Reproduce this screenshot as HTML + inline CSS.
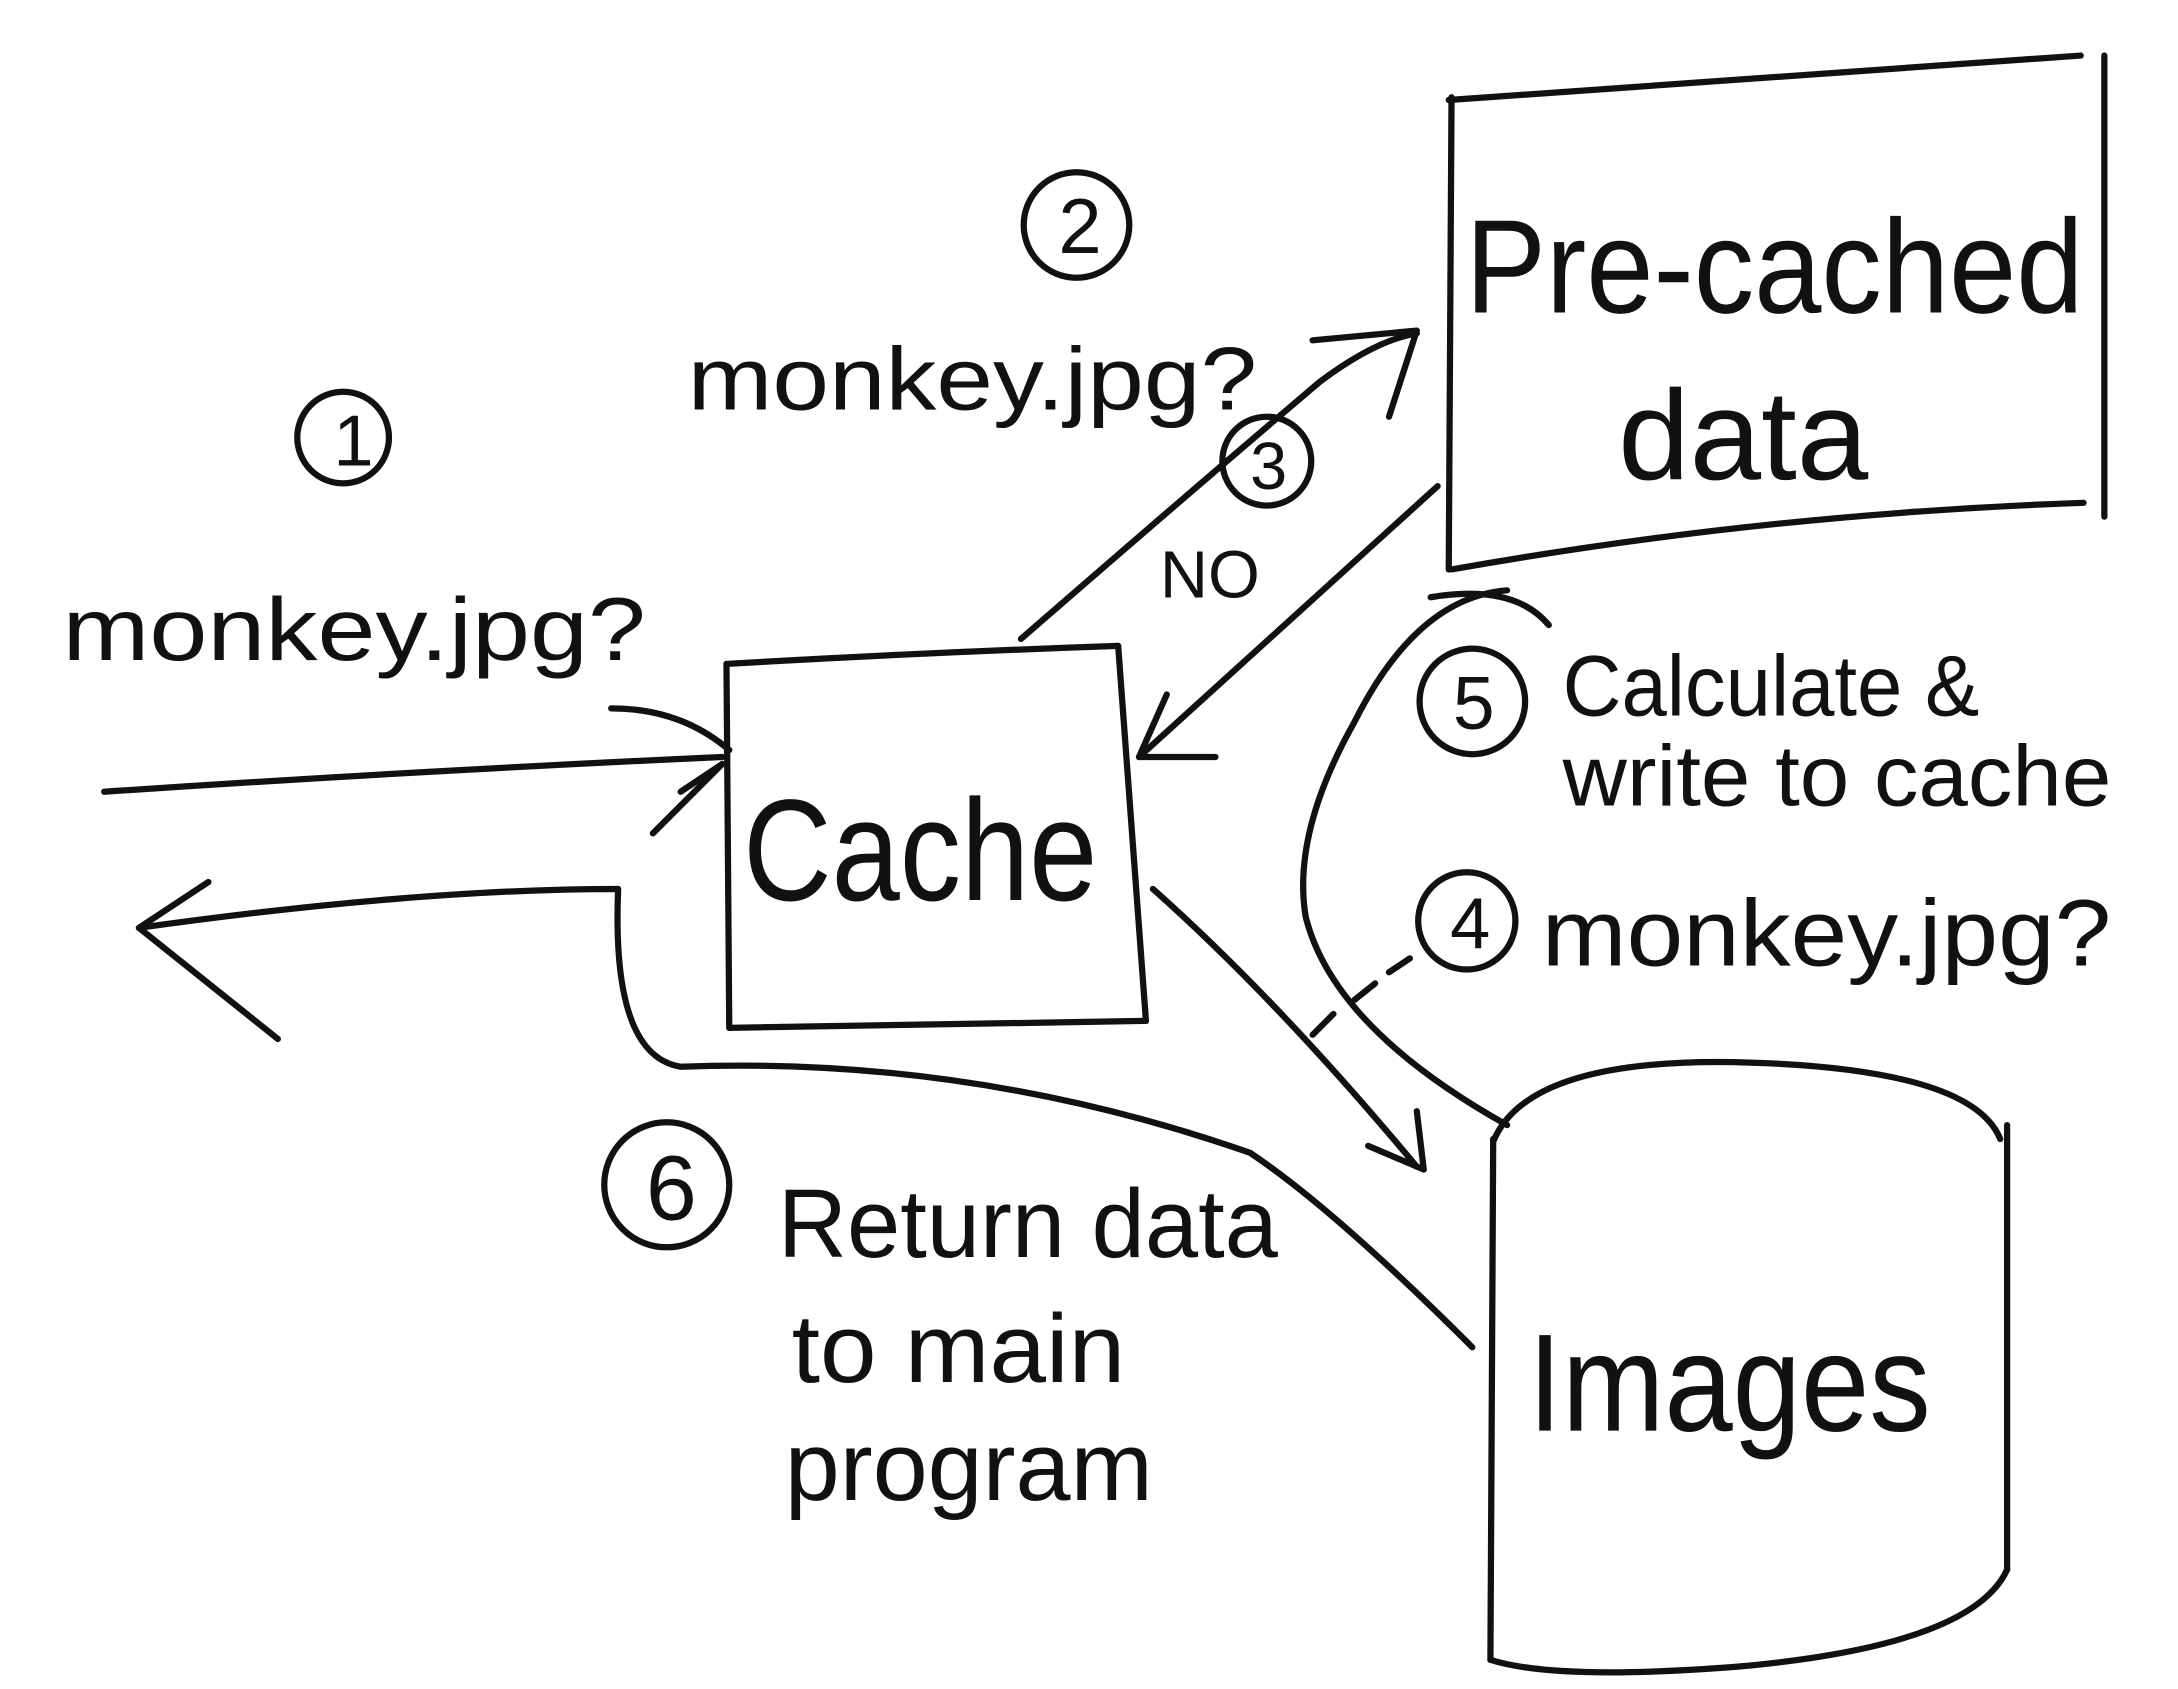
<!DOCTYPE html>
<html><head><meta charset="utf-8"><style>
html,body{margin:0;padding:0;background:#fff}
svg{display:block}
text{font-family:"Liberation Sans",sans-serif;fill:#111}
</style></head><body>
<svg width="2178" height="1689" viewBox="0 0 1568 1216" xmlns="http://www.w3.org/2000/svg">
<g fill="none" stroke="#111" stroke-width="4.5" stroke-linecap="round" stroke-linejoin="round">
<path d="M1045 70 L1043 410"/>
<path d="M1043 72 Q1280 55 1498 40"/>
<path d="M1515 40 L1515 372"/>
<path d="M1045 410 Q1270 370 1500 362"/>
<path d="M523 478 L525 740"/>
<path d="M523 478 Q660 470 805 465"/>
<path d="M805 465 L825 735"/>
<path d="M525 740 Q680 738 825 735"/>
<path d="M1075 820 L1073 1195"/>
<path d="M1075 822 Q1100 760 1260 765 Q1420 770 1440 820"/>
<path d="M1445 810 L1445 1130"/>
<path d="M1073 1195 Q1120 1210 1250 1200 Q1420 1185 1445 1130"/>
<path d="M75 570 Q300 555 520 545"/>
<path d="M490 570 L520 550 L470 600"/>
<path d="M440 510 Q490 510 525 540"/>
<path d="M1060 970 Q960 870 900 830 Q700 760 490 768 Q440 760 445 640 Q300 640 100 668"/>
<path d="M150 635 L100 668 L200 748"/>
<path d="M735 460 Q850 360 950 275 Q990 245 1020 240"/>
<path d="M945 245 L1020 238 L1000 300"/>
<path d="M1035 350 L820 545"/>
<path d="M840 500 L820 545 L875 545"/>
<path d="M830 640 Q920 720 1020 840"/>
<path d="M985 825 L1025 842 L1020 800"/>
<path d="M945 745 L960 730 M975 720 L990 708 M1000 700 L1015 690"/>
<path d="M1085 425 Q1020 430 975 520 Q930 600 940 660 Q960 740 1085 810"/>
<path d="M1030 430 Q1090 420 1115 450"/>
<circle cx="247" cy="315" r="33"/>
<circle cx="775" cy="162" r="38"/>
<circle cx="912" cy="332" r="32"/>
<circle cx="1056" cy="663" r="35"/>
<circle cx="1060" cy="505" r="38"/>
<circle cx="480" cy="853" r="45"/>
</g>
<text x="240" y="335" font-size="52">1</text>
<text x="762" y="182" font-size="56">2</text>
<text x="900" y="352" font-size="48">3</text>
<text x="1044" y="683" font-size="52">4</text>
<text x="1046" y="525" font-size="54">5</text>
<text x="465" y="878" font-size="66">6</text>
<text x="45" y="475" font-size="64" textLength="420" lengthAdjust="spacingAndGlyphs">monkey.jpg?</text>
<text x="495" y="295" font-size="64" textLength="410" lengthAdjust="spacingAndGlyphs">monkey.jpg?</text>
<text x="835" y="430" font-size="48">NO</text>
<text x="1055" y="225" font-size="96" textLength="445" lengthAdjust="spacingAndGlyphs">Pre-cached</text>
<text x="1165" y="345" font-size="92" textLength="180" lengthAdjust="spacingAndGlyphs">data</text>
<text x="535" y="648" font-size="104" textLength="255" lengthAdjust="spacingAndGlyphs">Cache</text>
<text x="1100" y="1030" font-size="100" textLength="290" lengthAdjust="spacingAndGlyphs">Images</text>
<text x="1125" y="515" font-size="62" textLength="300" lengthAdjust="spacingAndGlyphs">Calculate &amp;</text>
<text x="1125" y="580" font-size="62" textLength="395" lengthAdjust="spacingAndGlyphs">write to cache</text>
<text x="1110" y="695" font-size="68" textLength="410" lengthAdjust="spacingAndGlyphs">monkey.jpg?</text>
<text x="560" y="905" font-size="70" textLength="360" lengthAdjust="spacingAndGlyphs">Return data</text>
<text x="570" y="995" font-size="70" textLength="240" lengthAdjust="spacingAndGlyphs">to main</text>
<text x="565" y="1080" font-size="70" textLength="265" lengthAdjust="spacingAndGlyphs">program</text>
</svg>
</body></html>
